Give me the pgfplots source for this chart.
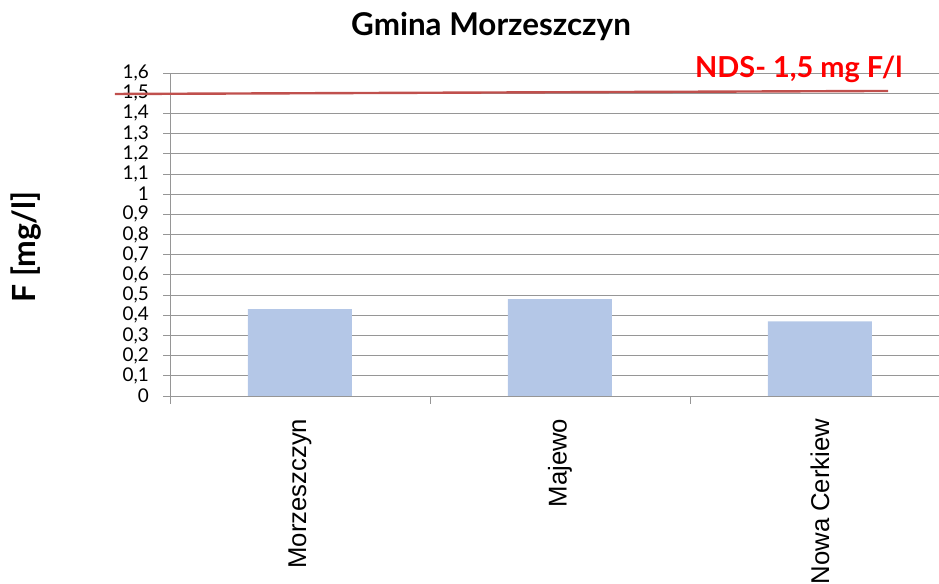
\documentclass[border=0pt]{standalone}
\usepackage{pgfplots}
\pgfplotsset{compat=1.18}
\usepackage{fontspec}
\setmainfont{Lato}
\newfontfamily\arial{Liberation Sans}
\definecolor{barblue}{RGB}{180,199,231}
\definecolor{ndsline}{RGB}{192,80,77}
\definecolor{gridgray}{RGB}{150,150,150}
\begin{document}
\begin{tikzpicture}[x=1bp,y=1bp]
\useasboundingbox (0,0) rectangle (939,584);
\begin{axis}[
  at={(170bp,188bp)}, anchor=south west,
  scale only axis, width=769bp, height=323bp,
  xmin=-0.5, xmax=2.458, ymin=0, ymax=1.6,
  clip=false,
  axis lines=left,
  axis line style={-, draw=gridgray, line width=0.8bp},
  ytick={0,0.1,...,1.6},
  ymajorgrids, grid style={draw=gridgray, line width=0.8bp},
  ytick align=outside, ytick style={draw=gridgray, line width=0.8bp},
  major tick length=7bp,
  /pgf/number format/.cd, use comma, fixed, precision=1, assume math mode=true,
  /pgfplots/.cd,
  yticklabel style={font=\fontsize{19}{19}\selectfont, inner sep=0pt, xshift=-14bp},
  xtick={0,1,2},
  xticklabels={Morzeszczyn, Majewo, Nowa Cerkiew},
  xtick style={draw=none},
  xticklabel style={font=\arial\fontsize{25.8}{26}\selectfont, rotate=90, anchor=east, inner sep=0pt},
  xticklabel shift=19bp,
  extra x ticks={-0.5,0.5,1.5},
  extra x tick labels={},
  extra x tick style={grid=none, xtick style={draw=gridgray, line width=0.8bp}, major tick length=8bp, tick align=outside},
]
\addplot[ybar, bar width=0.4, fill=barblue, draw=none] coordinates {(0,0.43) (1,0.48) (2,0.37)};
\addplot[color=ndsline, line width=2.4bp, mark=none] coordinates {(-0.712,1.496) (2.262,1.511)};
\end{axis}
\node[font=\bfseries\fontsize{31.5}{34}\selectfont, anchor=base, inner sep=0pt] at (491,548) {Gmina Morzeszczyn};
\node[font=\bfseries\fontsize{32}{34}\selectfont, rotate=90] at (26,337) {F [mg/l]};
\node[font=\bfseries\fontsize{29}{32}\selectfont, text=red, anchor=base west, inner sep=0pt] at (695,506) {NDS- 1,5 mg F/l};
\end{tikzpicture}
\end{document}
